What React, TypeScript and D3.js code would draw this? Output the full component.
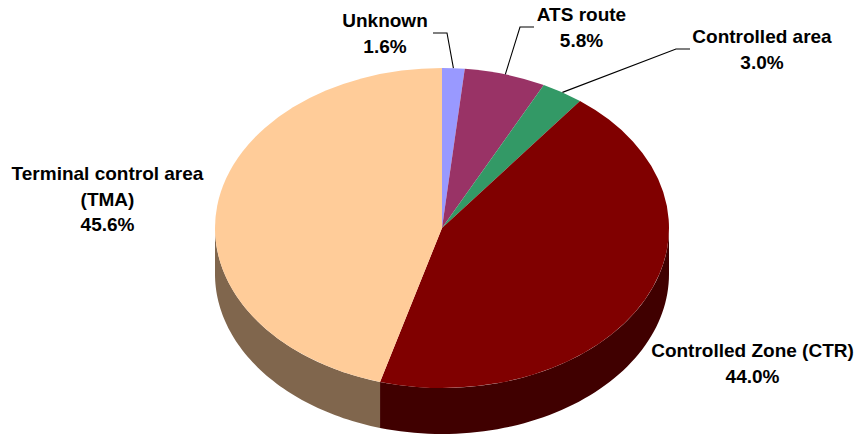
import React from "react";
import * as d3 from "d3";

const categories = ["Unknown", "ATS route", "Controlled area", "Controlled Zone (CTR)", "Terminal control area (TMA)"];
const shares = [1.6, 5.8, 3.0, 44.0, 45.6];
const topColors = ["#9999FF", "#993366", "#339966", "#800000", "#FFCC99"];
const sideColors = ["#4D4D80", "#4D1A33", "#1A4D33", "#400000", "#80664D"];

const labelLines: Record<string, string[]> = {
  "Unknown": ["Unknown"],
  "ATS route": ["ATS route"],
  "Controlled area": ["Controlled area"],
  "Controlled Zone (CTR)": ["Controlled Zone (CTR)"],
  "Terminal control area (TMA)": ["Terminal control area", "(TMA)"],
};
const labelAnchors: Record<string, [number, number]> = {
  "Unknown": [385, 27],
  "ATS route": [581.5, 21],
  "Controlled area": [762, 43],
  "Controlled Zone (CTR)": [752.5, 357],
  "Terminal control area (TMA)": [107.5, 180],
};
const leaderElbows: Record<string, [[number, number], [number, number]] | null> = {
  "Unknown": [[433, 33], [447, 33]],
  "ATS route": [[534, 27], [520, 27]],
  "Controlled area": [[690, 49], [676, 49]],
  "Controlled Zone (CTR)": null,
  "Terminal control area (TMA)": null,
};

const W = 858, H = 434;
const cx = 442, cy = 228, rx = 227, ry = 160, depth = 46;

const px = (t: number) => cx + rx * Math.sin(t);
const py = (t: number) => cy - ry * Math.cos(t);

export default function App() {
  const slices = d3.pie<number>().sort(null).value((d) => d)(shares);
  const arc = d3.arc<d3.PieArcDatum<number>>().innerRadius(0).outerRadius(rx);
  const scaleY = ry / rx;

  const walls = slices.map((s, i) => {
    const a0 = Math.max(s.startAngle, Math.PI / 2);
    const a1 = Math.min(s.endAngle, (3 * Math.PI) / 2);
    if (a1 <= a0) return null;
    const p = d3.path();
    const top = d3.range(0, 61).map((k) => a0 + ((a1 - a0) * k) / 60);
    top.forEach((t, k) => (k === 0 ? p.moveTo(px(t), py(t)) : p.lineTo(px(t), py(t))));
    [...top].reverse().forEach((t) => p.lineTo(px(t), py(t) + depth));
    p.closePath();
    return <path key={i} d={p.toString()} fill={sideColors[i]} />;
  });

  return (
    <svg
      width={W}
      height={H}
      viewBox={`0 0 ${W} ${H}`}
      style={{ position: "absolute", left: 0, top: 0, background: "#fff" }}
      fontFamily="'Liberation Sans', Arial, sans-serif"
      fontWeight="bold"
      fontSize={19}
    >
      {walls}
      <g transform={`translate(${cx},${cy}) scale(1,${scaleY})`}>
        {slices.map((s, i) => (
          <path key={i} d={arc(s) as string} fill={topColors[i]} />
        ))}
      </g>
      {slices.map((s, i) => {
        const elbow = leaderElbows[categories[i]];
        if (!elbow) return null;
        const mid = (s.startAngle + s.endAngle) / 2;
        const line = d3.line()([elbow[0], elbow[1], [px(mid), py(mid)]]) as string;
        return <path key={i} d={line} fill="none" stroke="#000" strokeWidth={1.1} />;
      })}
      {categories.map((c, i) => {
        const [x, y] = labelAnchors[c];
        const lines = [...labelLines[c], `${shares[i].toFixed(1)}%`];
        return (
          <text key={c} textAnchor="middle" fill="#000">
            {lines.map((l, k) => (
              <tspan key={k} x={x} y={y + k * 25.5}>
                {l}
              </tspan>
            ))}
          </text>
        );
      })}
    </svg>
  );
}
